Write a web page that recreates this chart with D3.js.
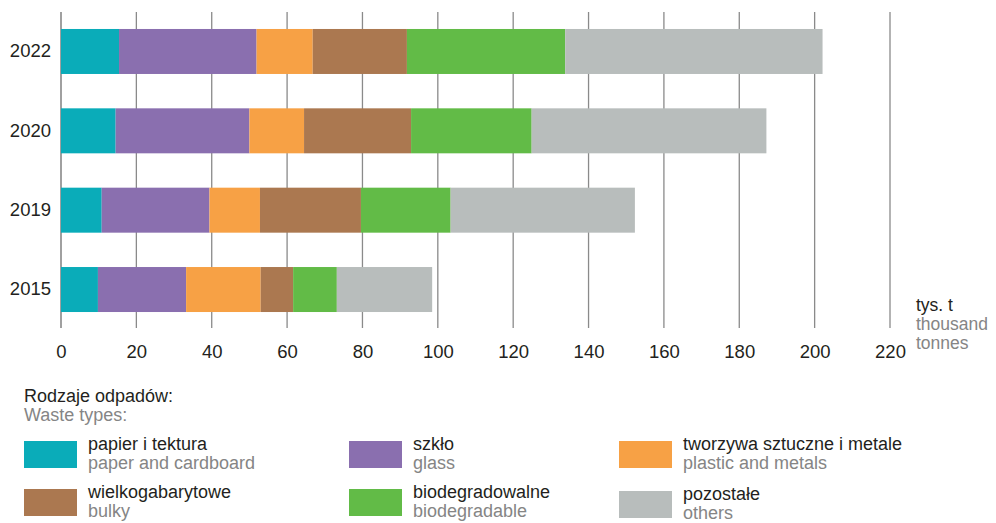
<!DOCTYPE html>
<html>
<head>
<meta charset="utf-8">
<script src="https://cdn.jsdelivr.net/npm/d3@7"></script>
<style>
  body { margin: 0; background: #fff; }
  svg text { font-family: "Liberation Sans", Arial, sans-serif; }
</style>
</head>
<body>
<div id="chart"></div>
<script>
// values in thousand tonnes
var years = ["2022", "2020", "2019", "2015"];
var paper = [15.4, 14.5, 10.8, 9.8];
var glass = [36.5, 35.5, 28.6, 23.4];
var plastic = [14.9, 14.5, 13.4, 19.8];
var bulky = [25.0, 28.4, 26.8, 8.6];
var bio = [42.0, 32.0, 23.8, 11.6];
var others = [68.3, 62.3, 48.9, 25.3];

var xTicks = [0, 20, 40, 60, 80, 100, 120, 140, 160, 180, 200, 220];

var keys = ["paper", "glass", "plastic", "bulky", "bio", "others"];
var namesPl = ["papier i tektura", "szkło", "tworzywa sztuczne i metale", "wielkogabarytowe", "biodegradowalne", "pozostałe"];
var namesEn = ["paper and cardboard", "glass", "plastic and metals", "bulky", "biodegradable", "others"];
var colors = ["#0aacb9", "#8a6faf", "#f7a145", "#ab7850", "#62bb47", "#b8bdbc"];

var width = 996, height = 523;
var dark = "#231f20", grey = "#858585";
var fs = "18.5px";   // axis labels
var lfs = "18px";    // legend

var svg = d3.select("#chart").append("svg")
  .attr("width", width)
  .attr("height", height);

var x = d3.scaleLinear().domain([0, 220]).range([61, 890]);
var y = d3.scaleBand().domain(years).range([11.8, 329.2])
  .paddingInner(0.433).paddingOuter(0.2165);
var color = d3.scaleOrdinal().domain(keys).range(colors);

// rows for the stack
var rows = years.map(function(yr, i) {
  return {year: yr, paper: paper[i], glass: glass[i], plastic: plastic[i],
          bulky: bulky[i], bio: bio[i], others: others[i]};
});
var series = d3.stack().keys(keys)(rows);

// vertical grid lines
svg.append("g").selectAll("line")
  .data(xTicks).enter()
  .append("line")
  .attr("x1", function(d) { return x(d); })
  .attr("x2", function(d) { return x(d); })
  .attr("y1", 12)
  .attr("y2", 328)
  .attr("stroke", function(d) { return d === 0 ? "#6d6d6d" : "#8a8a8a"; })
  .attr("stroke-width", 1.3);

svg.append("g").selectAll("g")
  .data(series).enter()
  .append("g")
  .attr("fill", function(d) { return color(d.key); })
  .selectAll("rect")
  .data(function(d) { return d; }).enter()
  .append("rect")
  .attr("x", function(d) { return x(d[0]); })
  .attr("width", function(d) { return x(d[1]) - x(d[0]); })
  .attr("y", function(d) { return y(d.data.year); })
  .attr("height", y.bandwidth());

// x axis labels
var xAxis = svg.append("g")
  .attr("transform", "translate(0,345)")
  .call(d3.axisBottom(x).tickValues(xTicks).tickSize(0).tickPadding(0));
xAxis.select(".domain").remove();
xAxis.selectAll("text")
  .attr("fill", dark)
  .style("font-size", fs)
  .attr("dy", "0.7em");

// year labels
var yAxis = svg.append("g")
  .attr("transform", "translate(51,0)")
  .call(d3.axisLeft(y).tickSize(0).tickPadding(0));
yAxis.select(".domain").remove();
yAxis.selectAll("text")
  .attr("fill", dark)
  .style("font-size", fs);

// unit
var unit = svg.append("text").attr("x", 916).attr("y", 311).style("font-size", "17.5px");
unit.append("tspan").attr("x", 916).attr("fill", dark).text("tys. t");
unit.append("tspan").attr("x", 916).attr("dy", 19).attr("fill", grey).text("thousand");
unit.append("tspan").attr("x", 916).attr("dy", 19).attr("fill", grey).text("tonnes");

// legend
svg.append("text").attr("x", 24).attr("y", 402)
  .style("font-size", lfs).attr("fill", dark).text("Rodzaje odpadów:");
svg.append("text").attr("x", 24).attr("y", 421)
  .style("font-size", lfs).attr("fill", grey).text("Waste types:");

var colX = [24, 349, 619];
var rowY = [441, 489];
var legend = svg.append("g").selectAll("g")
  .data(keys).enter()
  .append("g")
  .attr("transform", function(d, i) {
    var cx = colX[i % 3], cy = rowY[Math.floor(i / 3)];
    if (i === 5) cy += 2; // last one sits a bit lower
    return "translate(" + cx + "," + cy + ")";
  });

legend.append("rect")
  .attr("width", 53)
  .attr("height", 27)
  .attr("fill", function(d) { return color(d); });

legend.append("text")
  .attr("x", 64).attr("y", 9)
  .style("font-size", lfs)
  .attr("fill", dark)
  .text(function(d, i) { return namesPl[i]; });

legend.append("text")
  .attr("x", 64).attr("y", 28)
  .style("font-size", lfs)
  .attr("fill", grey)
  .text(function(d, i) { return namesEn[i]; });
</script>
</body>
</html>
